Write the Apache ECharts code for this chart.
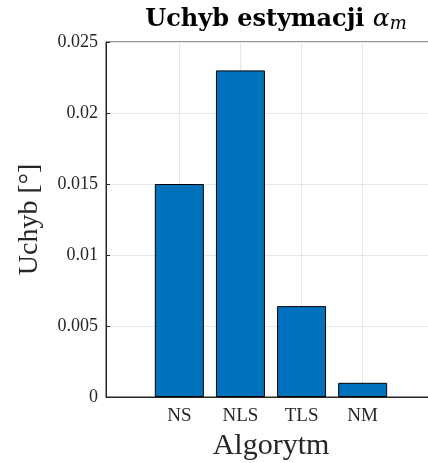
<!DOCTYPE html>
<html>
<head>
<meta charset="utf-8">
<script src="https://cdn.jsdelivr.net/npm/echarts@6/dist/echarts.min.js"></script>
<style>
  html, body { margin: 0; padding: 0; background: #fff; }
  #chart { width: 428px; height: 463px; }
</style>
</head>
<body>
<div id="chart"></div>
<script>
// Estimation error per algorithm
const categories = ['NS', 'NLS', 'TLS', 'NM'];
const errors = [0.015, 0.023, 0.0064, 0.001];
const yTicks = [0, 0.005, 0.01, 0.015, 0.02, 0.025];

const positions = categories.map((_, i) => i + 1);
const barData = positions.map((p, i) => [p, errors[i]]);

const FONT = '"Liberation Serif", "DejaVu Serif", serif';
const TITLE_FONT = '"DejaVu Serif", serif';
const INK = '#262626';

const chart = echarts.init(document.getElementById('chart'), null, { renderer: 'canvas' });
chart.setOption({
  animation: false,
  backgroundColor: '#ffffff',
  title: {
    text: '{b|Uchyb estymacji }{a|α}{s|m}',
    left: 271,
    textAlign: 'center',
    top: 1,
    textStyle: {
      rich: {
        b: { fontFamily: TITLE_FONT, fontWeight: 'bold', fontSize: 24, color: '#000' },
        a: { fontFamily: TITLE_FONT, fontWeight: 'normal', fontStyle: 'italic', fontSize: 25, color: '#000' },
        s: { fontFamily: TITLE_FONT, fontWeight: 'normal', fontStyle: 'italic', fontSize: 18, color: '#000', verticalAlign: 'bottom', padding: [9, 0, 0, 0] }
      }
    }
  },
  grid: {
    left: 106,
    top: 42,
    width: 330,
    height: 355,
    outerBoundsMode: 'none',
    show: true,
    borderColor: INK,
    borderWidth: 1,
    backgroundColor: 'transparent'
  },
  xAxis: {
    type: 'value',
    min: -0.2,
    max: 5.2,
    name: 'Algorytm',
    nameLocation: 'middle',
    nameGap: 33,
    nameTextStyle: { fontFamily: FONT, fontSize: 30, color: INK },
    axisLine: { show: true, onZero: false, lineStyle: { color: INK, width: 1 } },
    axisTick: { show: true, inside: true, length: 4, customValues: positions, lineStyle: { color: INK } },
    axisLabel: {
      customValues: positions,
      fontFamily: FONT, fontSize: 19, color: INK, margin: 10,
      formatter: v => categories[Math.round(v) - 1] || ''
    },
    splitLine: { show: true, lineStyle: { color: '#e6e6e6', width: 1 } }
  },
  yAxis: {
    type: 'value',
    min: 0,
    max: 0.025,
    interval: 0.005,
    name: 'Uchyb [°]',
    nameLocation: 'middle',
    nameGap: 62,
    nameTextStyle: { fontFamily: FONT, fontSize: 28, color: INK },
    axisLine: { show: true, onZero: false, lineStyle: { color: INK, width: 1 } },
    axisTick: { show: true, inside: true, length: 4, lineStyle: { color: INK } },
    axisLabel: {
      fontFamily: FONT, fontSize: 18, color: INK, margin: 8,
      formatter: v => String(yTicks.find(t => Math.abs(t - v) < 1e-9) ?? v)
    },
    splitLine: { show: true, lineStyle: { color: '#e6e6e6', width: 1 } }
  },
  series: [{
    type: 'bar',
    data: barData,
    barWidth: 49,
    itemStyle: { color: '#0072BD', borderColor: '#000', borderWidth: 1 }
  }]
});
</script>
</body>
</html>
